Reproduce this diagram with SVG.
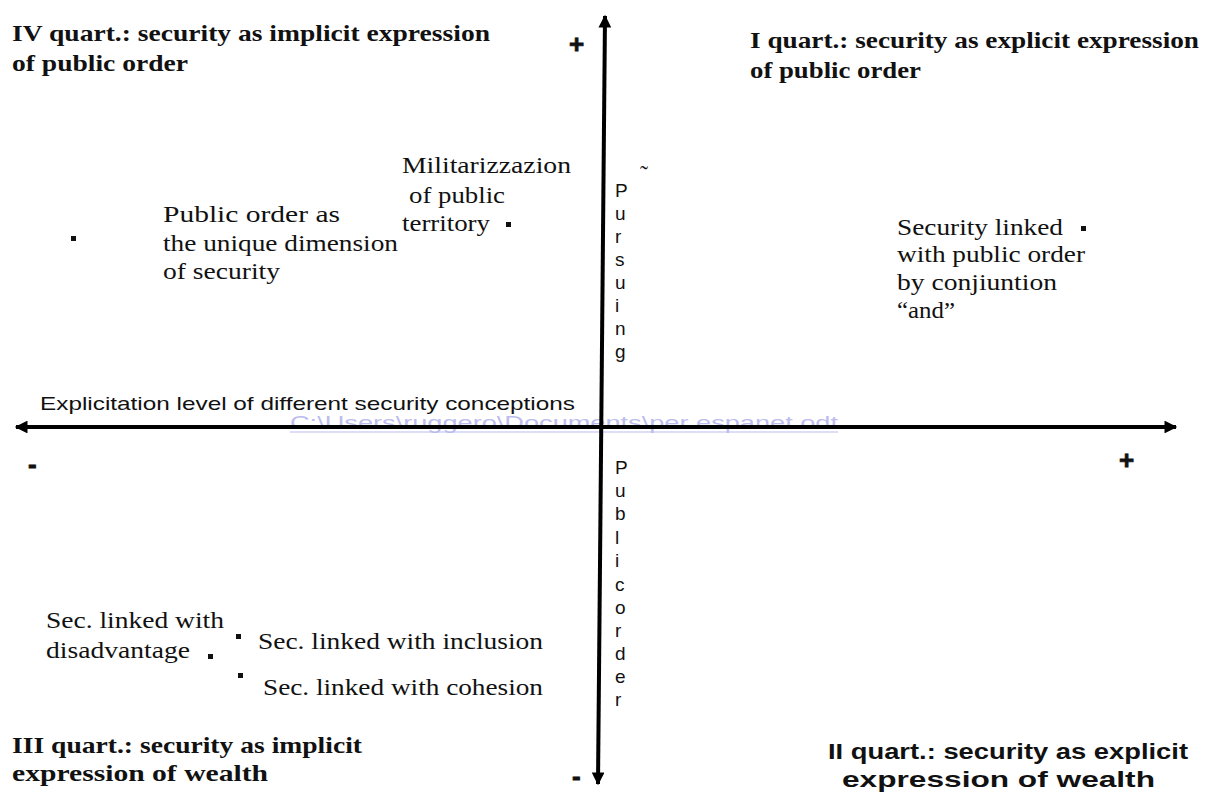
<svg xmlns="http://www.w3.org/2000/svg" width="1213" height="794" viewBox="0 0 1213 794">
<defs>
<style>
.qs{font-family:"Liberation Serif",serif;font-weight:bold;font-size:24px;fill:#111}
.qa{font-family:"Liberation Sans",sans-serif;font-weight:bold;font-size:22px;fill:#111}
.t{font-family:"Liberation Serif",serif;font-size:24px;fill:#111}
.s{font-family:"Liberation Sans",sans-serif;font-size:19px;fill:#111}
.v{font-family:"Liberation Sans",sans-serif;font-size:19px;fill:#111}
.pm{font-family:"Liberation Sans",sans-serif;font-weight:bold;font-size:26px;fill:#111;stroke:#111;stroke-width:0.8}
.lnk{font-family:"Liberation Sans",sans-serif;font-size:19px;fill:#bcbcee}
.ax{stroke:#000;stroke-width:4;fill:none}
.dot{fill:#111}
</style>
<marker id="ah" viewBox="0 0 10 10" refX="9" refY="5" markerWidth="3.4" markerHeight="3.2" orient="auto-start-reverse" markerUnits="strokeWidth">
<path d="M0,0 L10,5 L0,10 z" fill="#000"/>
</marker>
</defs>
<rect width="1213" height="794" fill="#fff"/>

<g id="connectors">
<text class="lnk" x="290" y="429" textLength="548" lengthAdjust="spacingAndGlyphs">C:\Users\ruggero\Documents\per espanet.odt</text>
<line x1="290" y1="432" x2="838" y2="432" stroke="#bcbcee" stroke-width="1.2"/>
<line class="ax" x1="16" y1="427" x2="1176" y2="427" marker-start="url(#ah)" marker-end="url(#ah)"/>
<line class="ax" x1="605" y1="16" x2="598" y2="784" marker-start="url(#ah)" marker-end="url(#ah)"/>
</g>

<g id="quadrant-IV">
<text class="qs" x="12" y="41" textLength="478" lengthAdjust="spacingAndGlyphs">IV quart.: security as implicit expression</text>
<text class="qs" x="12" y="71" textLength="176" lengthAdjust="spacingAndGlyphs">of public order</text>
</g>
<g id="quadrant-I">
<text class="qs" x="750" y="48" textLength="449" lengthAdjust="spacingAndGlyphs">I quart.: security as explicit expression</text>
<text class="qs" x="750" y="78" textLength="171" lengthAdjust="spacingAndGlyphs">of public order</text>
</g>
<g id="quadrant-III">
<text class="qs" x="12" y="753" textLength="350" lengthAdjust="spacingAndGlyphs">III quart.: security as implicit</text>
<text class="qs" x="12" y="781" textLength="256" lengthAdjust="spacingAndGlyphs">expression of wealth</text>
</g>
<g id="quadrant-II">
<text class="qa" x="828" y="759" textLength="360" lengthAdjust="spacingAndGlyphs">II quart.: security as explicit</text>
<text class="qa" x="842" y="787" textLength="313" lengthAdjust="spacingAndGlyphs">expression of wealth</text>
</g>

<g id="axis-signs">
<text class="pm" x="569" y="53">+</text>
<text class="pm" x="1119" y="469">+</text>
<text class="pm" x="28" y="473">-</text>
<text class="pm" x="572" y="785">-</text>
</g>

<g id="x-axis-label">
<text class="s" x="40" y="410" textLength="535" lengthAdjust="spacingAndGlyphs">Explicitation level of different security conceptions</text>
</g>

<g id="y-axis-label-top">
<text class="v" x="615" y="197">P</text>
<text class="v" x="615" y="220">u</text>
<text class="v" x="615" y="243">r</text>
<text class="v" x="615" y="266">s</text>
<text class="v" x="615" y="289">u</text>
<text class="v" x="615" y="312">i</text>
<text class="v" x="615" y="335">n</text>
<text class="v" x="615" y="358">g</text>
<text class="t" x="640" y="182" font-size="11">˜</text>
</g>

<g id="y-axis-label-bottom">
<text class="v" x="615" y="474">P</text>
<text class="v" x="615" y="497">u</text>
<text class="v" x="615" y="520">b</text>
<text class="v" x="615" y="544">l</text>
<text class="v" x="615" y="567">i</text>
<text class="v" x="615" y="591">c</text>
<text class="v" x="615" y="614">o</text>
<text class="v" x="615" y="637">r</text>
<text class="v" x="615" y="660">d</text>
<text class="v" x="615" y="683">e</text>
<text class="v" x="615" y="706">r</text>
</g>

<g id="node-public-order-unique">
<rect class="dot" x="71" y="236" width="5" height="5"/>
<text class="t" x="163" y="222" textLength="177" lengthAdjust="spacingAndGlyphs">Public order as</text>
<text class="t" x="163" y="251" textLength="235" lengthAdjust="spacingAndGlyphs">the unique dimension</text>
<text class="t" x="163" y="279" textLength="117" lengthAdjust="spacingAndGlyphs">of security</text>
</g>

<g id="node-militarizzazion">
<text class="t" x="402" y="173" textLength="169" lengthAdjust="spacingAndGlyphs">Militarizzazion</text>
<text class="t" x="409" y="203" textLength="96" lengthAdjust="spacingAndGlyphs">of public</text>
<text class="t" x="402" y="231" textLength="88" lengthAdjust="spacingAndGlyphs">territory</text>
<rect class="dot" x="506" y="222" width="5" height="5"/>
</g>

<g id="node-security-and">
<text class="t" x="897" y="235" textLength="166" lengthAdjust="spacingAndGlyphs">Security linked</text>
<rect class="dot" x="1081" y="226" width="5" height="5"/>
<text class="t" x="897" y="262" textLength="188" lengthAdjust="spacingAndGlyphs">with public order</text>
<text class="t" x="897" y="290" textLength="160" lengthAdjust="spacingAndGlyphs">by conjiuntion</text>
<text class="t" x="897" y="318" textLength="58" lengthAdjust="spacingAndGlyphs">“and”</text>
</g>

<g id="node-disadvantage">
<text class="t" x="46" y="628" textLength="178" lengthAdjust="spacingAndGlyphs">Sec. linked with</text>
<text class="t" x="46" y="658" textLength="144" lengthAdjust="spacingAndGlyphs">disadvantage</text>
<rect class="dot" x="208" y="654" width="5" height="5"/>
</g>

<g id="node-inclusion">
<rect class="dot" x="236" y="634" width="5" height="5"/>
<text class="t" x="258" y="649" textLength="285" lengthAdjust="spacingAndGlyphs">Sec. linked with inclusion</text>
</g>

<g id="node-cohesion">
<rect class="dot" x="238" y="673" width="5" height="5"/>
<text class="t" x="263" y="695" textLength="280" lengthAdjust="spacingAndGlyphs">Sec. linked with cohesion</text>
</g>
</svg>
